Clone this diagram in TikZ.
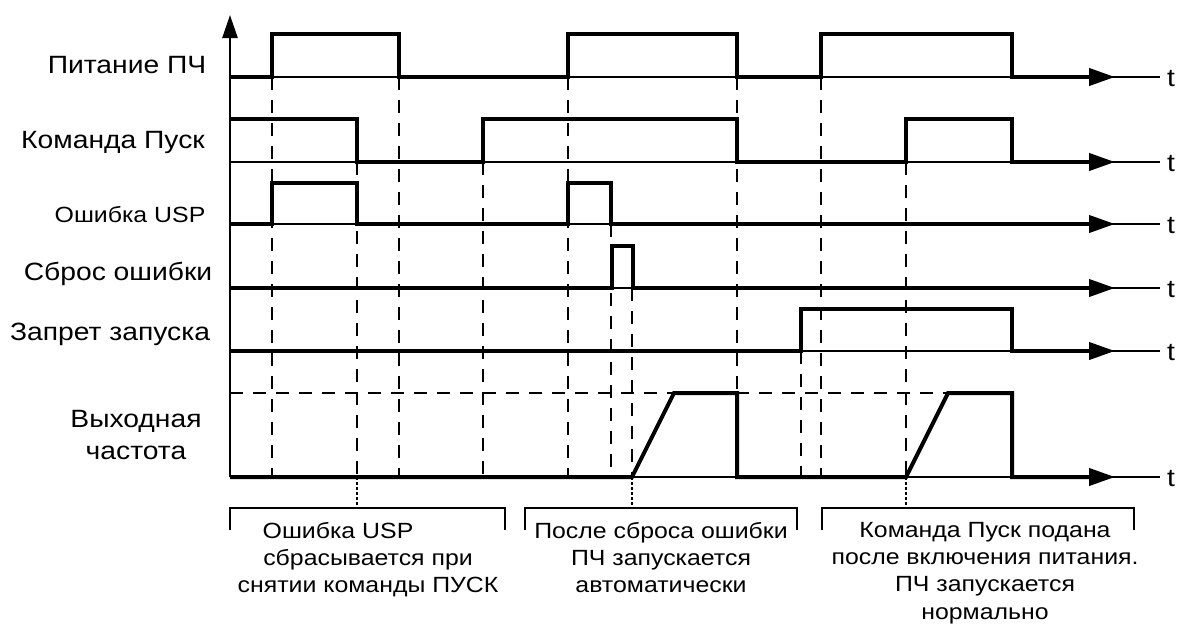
\documentclass[tikz,border=0pt]{standalone}
\usepackage{fontspec}
\setmainfont{Liberation Sans}[FakeStretch=1.13]
\usetikzlibrary{arrows.meta}

\begin{document}
\begin{tikzpicture}[x=1pt, y=-1pt, >={Triangle[length=26pt,width=17pt]},
    signal/.style={line width=4pt},
    timeaxis/.style={line width=1.6pt},
    guide/.style={line width=1.8pt, dash pattern=on 13pt off 10pt},
    marker/.style={line width=2pt, dash pattern=on 2.5pt off 2.5pt},
    bracket/.style={line width=2pt},
    lbl/.style={font=\fontsize{25}{30}\selectfont, inner sep=0pt},
    note/.style={font=\fontsize{22}{27.3}\selectfont, align=center, inner sep=0pt, anchor=north}]
  \useasboundingbox (0,0) rectangle (1177,624);

  % signal names
  \node[lbl, anchor=base] (power) at (127,73) {Питание ПЧ};
  \node[lbl, anchor=base] (start) at (113,148) {Команда Пуск};
  \node[lbl, anchor=base, font=\fontsize{22}{27}\selectfont] (usp) at (130,222) {Ошибка USP};
  \node[lbl, anchor=base] (reset) at (118,280) {Сброс ошибки};
  \node[lbl, anchor=base] (inhibit) at (110,340) {Запрет запуска};
  \node[lbl, align=center, font=\fontsize{25}{32}\selectfont] (freq) at (136,435) {Выходная\\частота};

  % guide lines
  \foreach \x/\y in {272/77, 399/77, 568/77, 737/77, 821/77, 357/162, 483/162, 906/162, 611/224, 632/288, 801/351}
    \draw[guide] (\x,\y) -- (\x,477);
  \draw[guide] (230,393) -- (948,393);
  \foreach \x in {357, 632, 906}
    \draw[marker] (\x,477) -- (\x,508);

  % time axes
  \foreach \y/\n in {77/1, 162/2, 224/3, 288/4, 351/5, 477/6} {
    \draw[timeaxis] (230,\y) -- (1160,\y);
    \node[lbl, anchor=base west] (t\n) at (1167,\y+9) {t};
  }
  \draw[line width=2.6pt, -{Triangle[length=23pt,width=15pt]}] (230,477) -- (230,15);

  % traces
  \draw[signal, ->] (230,77) -- (272,77) -- (272,34) -- (399,34) -- (399,77) -- (568,77) -- (568,34)
    -- (737,34) -- (737,77) -- (821,77) -- (821,34) -- (1012,34) -- (1012,77) -- (1115,77);
  \draw[signal, ->] (230,119) -- (357,119) -- (357,162) -- (483,162) -- (483,119) -- (737,119)
    -- (737,162) -- (906,162) -- (906,119) -- (1012,119) -- (1012,162) -- (1115,162);
  \draw[signal, ->] (230,224) -- (272,224) -- (272,183) -- (357,183) -- (357,224) -- (568,224)
    -- (568,183) -- (611,183) -- (611,224) -- (1115,224);
  \draw[signal, ->] (230,288) -- (612,288) -- (612,246) -- (633,246) -- (633,288) -- (1115,288);
  \draw[signal, ->] (230,351) -- (801,351) -- (801,309) -- (1012,309) -- (1012,351) -- (1115,351);
  \draw[signal, ->] (230,477) -- (632,477) -- (674,393) -- (737,393) -- (737,477) -- (906,477)
    -- (948,393) -- (1012,393) -- (1012,477) -- (1115,477);

  % cases
  \draw[bracket] (230,530) -- (230,508) -- (505,508) -- (505,530);
  \draw[bracket] (525,530) -- (525,508) -- (797,508) -- (797,530);
  \draw[bracket] (822,530) -- (822,508) -- (1134,508) -- (1134,530);
  \node[note] (case1) at (368,522) {Ошибка USP\hspace*{60pt}\\сбрасывается при\\снятии команды ПУСК};
  \node[note] (case2) at (661,522) {После сброса ошибки\\ПЧ запускается\\автоматически};
  \node[note] (case3) at (985,522) {Команда Пуск подана\\после включения питания.\\ПЧ запускается\\нормально};
\end{tikzpicture}
\end{document}
